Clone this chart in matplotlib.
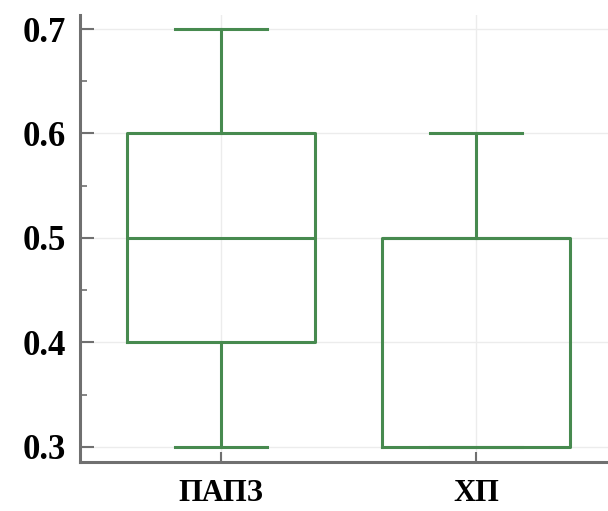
import matplotlib
matplotlib.use("Agg")
import matplotlib.pyplot as plt

# data
groups = ["ПАПЗ", "ХП"]
whislo = [0.3, 0.3]
q1 = [0.4, 0.3]
med = [0.5, 0.5]
q3 = [0.6, 0.5]
whishi = [0.7, 0.6]

green = "#478a4f"
grey = "#707070"


def main():
    plt.rcParams['font.family'] = ['Liberation Serif', 'DejaVu Serif']
    fig = plt.figure(figsize=(6.08, 5.11), dpi=100)
    ax = fig.add_axes([80 / 608, 1 - 462 / 511, 1 - 80 / 608, (462 - 15) / 511])

    stats = []
    for i, g in enumerate(groups):
        stats.append({'label': g, 'whislo': whislo[i], 'q1': q1[i], 'med': med[i],
                      'q3': q3[i], 'whishi': whishi[i], 'fliers': []})

    lw = 2.2
    ax.bxp(stats, positions=[1, 2], widths=0.74, showfliers=False,
           boxprops=dict(color=green, linewidth=lw),
           whiskerprops=dict(color=green, linewidth=lw),
           capprops=dict(color=green, linewidth=lw),
           medianprops=dict(color=green, linewidth=lw),
           capwidths=0.36)

    ax.set_xlim(0.447, 2.518)
    ax.set_ylim(0.2856, 0.7134)
    ax.set_yticks([0.3, 0.4, 0.5, 0.6, 0.7])
    ax.set_yticks([0.35, 0.45, 0.55, 0.65], minor=True)
    ax.set_yticklabels(["0.3", "0.4", "0.5", "0.6", "0.7"])

    ax.grid(True, color="#ececec", linewidth=1.0, zorder=0)
    ax.set_axisbelow(True)

    for s in ['top', 'right']:
        ax.spines[s].set_visible(False)
    for s in ['left', 'bottom']:
        ax.spines[s].set_color(grey)
        ax.spines[s].set_linewidth(2.2)

    ax.tick_params(axis='y', which='major', direction='in', length=10, width=1.5,
                   color=grey, labelsize=25, pad=10)
    ax.tick_params(axis='y', which='minor', direction='in', length=5, width=1.2,
                   color=grey)
    ax.tick_params(axis='x', which='major', direction='in', length=7, width=1.5,
                   color=grey, labelsize=22, pad=12)
    for lab in ax.get_xticklabels() + ax.get_yticklabels():
        lab.set_fontweight('bold')

    fig.savefig("out.png", dpi=100)


if __name__ == '__main__':
    main()
